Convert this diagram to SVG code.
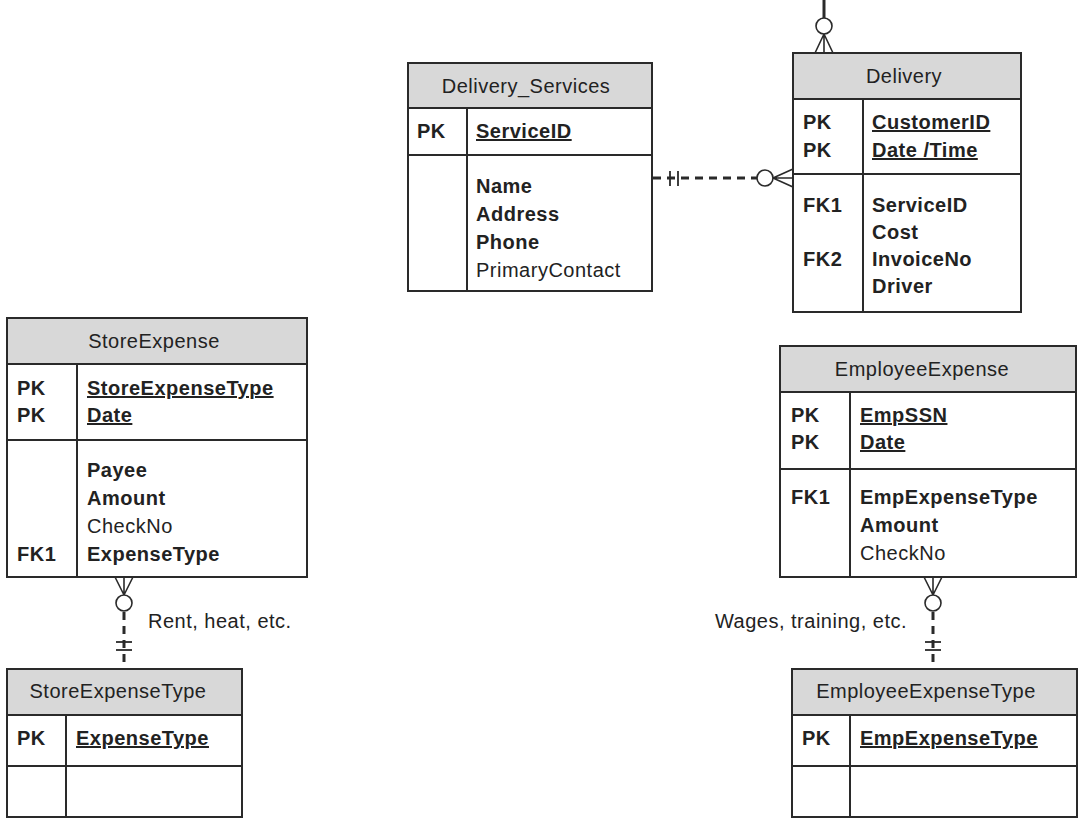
<svg xmlns="http://www.w3.org/2000/svg" width="1080" height="819" viewBox="0 0 1080 819">
<style>
.box{fill:#fff;stroke:#2a2a2a;stroke-width:2}
.hdr{fill:#d8d8d8;stroke:#2a2a2a;stroke-width:2}
.ln{stroke:#2a2a2a;stroke-width:2;fill:none}
text{font-family:"Liberation Sans",Arial,sans-serif;font-size:20px;letter-spacing:0.5px;fill:#222}
.b{font-weight:bold}
.u{text-decoration:underline}
.h{text-anchor:middle}
.c{stroke:#2a2a2a;stroke-width:1.6;fill:#fff}
.cf{stroke:#2a2a2a;stroke-width:1.6;fill:none}
.d{stroke:#2a2a2a;stroke-width:3;fill:none;stroke-dasharray:8 6}
.bar{stroke:#2a2a2a;stroke-width:1.8}
</style>
<g id="connectors">
  <!-- top of Delivery -->
  <line x1="824" y1="0" x2="824" y2="18" stroke="#2a2a2a" stroke-width="3"/>
  <circle class="c" cx="824" cy="26" r="8"/>
  <path class="cf" d="M824 34 L815 53 M824 34 L824 53 M824 34 L833 53"/>
  <!-- Delivery_Services to Delivery -->
  <line class="d" x1="653" y1="178" x2="757" y2="178"/>
  <line class="bar" x1="670" y1="171" x2="670" y2="186"/>
  <line class="bar" x1="678" y1="171" x2="678" y2="186"/>
  <circle class="c" cx="765" cy="178" r="8"/>
  <path class="cf" d="M773 178 L793 169 M773 178 L793 178 M773 178 L793 187"/>
  <!-- StoreExpense to StoreExpenseType -->
  <path class="cf" d="M115 577 L124 595 M124 577 L124 595 M133 577 L124 595"/>
  <circle class="c" cx="124" cy="603" r="8"/>
  <line class="d" x1="124" y1="612" x2="124" y2="669"/>
  <line class="bar" x1="116" y1="642" x2="132" y2="642"/>
  <line class="bar" x1="116" y1="650" x2="132" y2="650"/>
  <!-- EmployeeExpense to EmployeeExpenseType -->
  <path class="cf" d="M924 577 L933 595 M933 577 L933 595 M942 577 L933 595"/>
  <circle class="c" cx="933" cy="603" r="8"/>
  <line class="d" x1="933" y1="612" x2="933" y2="669"/>
  <line class="bar" x1="925" y1="642" x2="941" y2="642"/>
  <line class="bar" x1="925" y1="650" x2="941" y2="650"/>
  <text x="148" y="628">Rent, heat, etc.</text>
  <text x="907" y="628" text-anchor="end">Wages, training, etc.</text>
</g>
<g id="Delivery_Services">
  <rect class="box" x="408" y="63" width="244" height="228"/>
  <rect class="hdr" x="408" y="63" width="244" height="45"/>
  <line class="ln" x1="408" y1="155" x2="652" y2="155"/>
  <line class="ln" x1="467" y1="108" x2="467" y2="291"/>
  <text class="h" x="526" y="93">Delivery_Services</text>
  <text class="b" x="417" y="138">PK</text>
  <text class="b u" x="476" y="138">ServiceID</text>
  <text class="b" x="476" y="193">Name</text>
  <text class="b" x="476" y="221">Address</text>
  <text class="b" x="476" y="249">Phone</text>
  <text x="476" y="277">PrimaryContact</text>
</g>
<g id="Delivery">
  <rect class="box" x="793" y="53" width="228" height="259"/>
  <rect class="hdr" x="793" y="53" width="228" height="46"/>
  <line class="ln" x1="793" y1="174" x2="1021" y2="174"/>
  <line class="ln" x1="863" y1="99" x2="863" y2="312"/>
  <text class="h" x="904" y="83">Delivery</text>
  <text class="b" x="803" y="129">PK</text>
  <text class="b" x="803" y="157">PK</text>
  <text class="b u" x="872" y="129">CustomerID</text>
  <text class="b u" x="872" y="157">Date /Time</text>
  <text class="b" x="803" y="212">FK1</text>
  <text class="b" x="803" y="266">FK2</text>
  <text class="b" x="872" y="212">ServiceID</text>
  <text class="b" x="872" y="239">Cost</text>
  <text class="b" x="872" y="266">InvoiceNo</text>
  <text class="b" x="872" y="293">Driver</text>
</g>
<g id="StoreExpense">
  <rect class="box" x="7" y="318" width="300" height="259"/>
  <rect class="hdr" x="7" y="318" width="300" height="46"/>
  <line class="ln" x1="7" y1="440" x2="307" y2="440"/>
  <line class="ln" x1="77" y1="364" x2="77" y2="577"/>
  <text class="h" x="154" y="348">StoreExpense</text>
  <text class="b" x="17" y="395">PK</text>
  <text class="b" x="17" y="422">PK</text>
  <text class="b u" x="87" y="395">StoreExpenseType</text>
  <text class="b u" x="87" y="422">Date</text>
  <text class="b" x="87" y="477">Payee</text>
  <text class="b" x="87" y="505">Amount</text>
  <text x="87" y="533">CheckNo</text>
  <text class="b" x="17" y="561">FK1</text>
  <text class="b" x="87" y="561">ExpenseType</text>
</g>
<g id="StoreExpenseType">
  <rect class="box" x="7" y="669" width="235" height="148"/>
  <rect class="hdr" x="7" y="669" width="235" height="46"/>
  <line class="ln" x1="7" y1="766" x2="242" y2="766"/>
  <line class="ln" x1="66" y1="715" x2="66" y2="817"/>
  <text class="h" x="118" y="698">StoreExpenseType</text>
  <text class="b" x="17" y="745">PK</text>
  <text class="b u" x="76" y="745">ExpenseType</text>
</g>
<g id="EmployeeExpense">
  <rect class="box" x="780" y="346" width="296" height="231"/>
  <rect class="hdr" x="780" y="346" width="296" height="46"/>
  <line class="ln" x1="780" y1="469" x2="1076" y2="469"/>
  <line class="ln" x1="850" y1="392" x2="850" y2="577"/>
  <text class="h" x="922" y="376">EmployeeExpense</text>
  <text class="b" x="791" y="422">PK</text>
  <text class="b" x="791" y="449">PK</text>
  <text class="b u" x="860" y="422">EmpSSN</text>
  <text class="b u" x="860" y="449">Date</text>
  <text class="b" x="791" y="504">FK1</text>
  <text class="b" x="860" y="504">EmpExpenseType</text>
  <text class="b" x="860" y="532">Amount</text>
  <text x="860" y="560">CheckNo</text>
</g>
<g id="EmployeeExpenseType">
  <rect class="box" x="792" y="669" width="285" height="148"/>
  <rect class="hdr" x="792" y="669" width="285" height="46"/>
  <line class="ln" x1="792" y1="766" x2="1077" y2="766"/>
  <line class="ln" x1="850" y1="715" x2="850" y2="817"/>
  <text class="h" x="926" y="698">EmployeeExpenseType</text>
  <text class="b" x="802" y="745">PK</text>
  <text class="b u" x="860" y="745">EmpExpenseType</text>
</g>
</svg>
